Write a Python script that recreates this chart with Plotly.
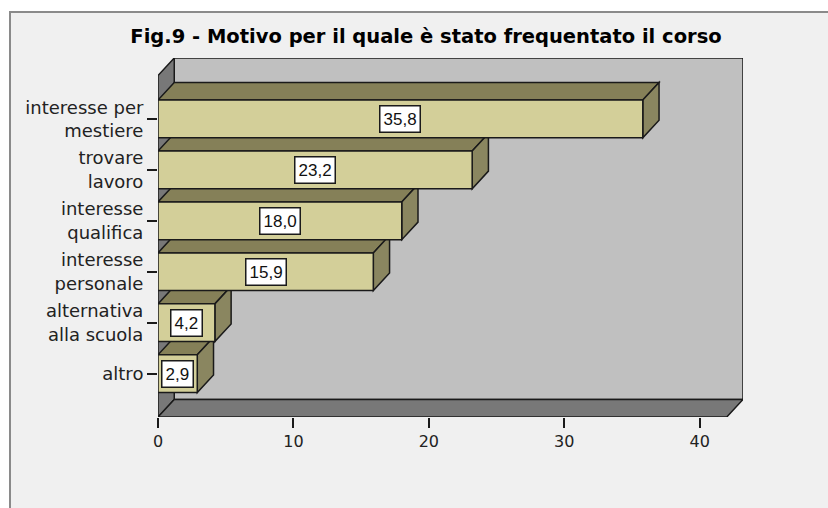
import plotly.graph_objects as go

# ---- data ----
categories = ["interesse per<br>mestiere", "trovare<br>lavoro", "interesse<br>qualifica",
              "interesse<br>personale", "alternativa<br>alla scuola", "altro"]
values = [35.8, 23.2, 18.0, 15.9, 4.2, 2.9]
x_ticks = [0, 10, 20, 30, 40]
title_text = "Fig.9 - Motivo per il quale è stato frequentato il corso"

# ---- geometry / style ----
W, H = 828, 508
ML, MR, MT, MB = 158, 85, 58, 91
X_MAX = 42.0          # front plane extent
DX = 1.2              # depth offset (x units)
Y_LO, Y_HI = -0.85, 5.85
DY = 0.345            # depth offset (category units)
BAR_W = 0.74

BAR_FRONT = "#d3cf99"
BAR_TOP = "#858058"
BAR_SIDE = "#8a8660"
WALL_BACK = "#c0c0c0"
WALL_DARK = "#787878"
EDGE = "#1a1a1a"
BG = "#f0f0f0"

ypos = list(range(len(categories)))

fig = go.Figure()
fig.add_trace(go.Bar(
    x=values, y=ypos, orientation="h", width=BAR_W,
    marker=dict(color=BAR_FRONT, line=dict(color=EDGE, width=1.5)),
    hoverinfo="skip", showlegend=False,
))

shapes = []
pw = W - ML - MR
ph = H - MT - MB
def px_to_paper_x(px):
    return (px - ML) / pw
def py_to_paper_y(py):
    return (H - MB - py) / ph
# outer frame
shapes.append(dict(type="rect", xref="paper", yref="paper", layer="below",
                   x0=px_to_paper_x(10), x1=px_to_paper_x(W + 20),
                   y0=py_to_paper_y(H + 20), y1=py_to_paper_y(12),
                   fillcolor=BG, line=dict(color="#8a8a8a", width=2)))

def poly(pts, fill):
    d = "M " + " L ".join(f"{x},{y}" for x, y in pts) + " Z"
    return dict(type="path", xref="x", yref="y", layer="below", path=d,
                fillcolor=fill, line=dict(color=EDGE, width=1.5))

# back wall
shapes.append(poly([(DX, Y_LO - DY), (X_MAX + DX, Y_LO - DY),
                    (X_MAX + DX, Y_HI - DY), (DX, Y_HI - DY)], WALL_BACK))
# left wall
shapes.append(poly([(0, Y_LO), (DX, Y_LO - DY), (DX, Y_HI - DY), (0, Y_HI)], WALL_DARK))
# floor
shapes.append(poly([(0, Y_HI), (X_MAX, Y_HI), (X_MAX + DX, Y_HI - DY), (DX, Y_HI - DY)], WALL_DARK))

# bar top / side faces, bottom bar first
for c, v in sorted(zip(ypos, values), reverse=True):
    t = c - BAR_W / 2
    b = c + BAR_W / 2
    shapes.append(poly([(0, t), (v, t), (v + DX, t - DY), (DX, t - DY)], BAR_TOP))
    shapes.append(poly([(v, t), (v + DX, t - DY), (v + DX, b - DY), (v, b)], BAR_SIDE))

annotations = []
for c, v in zip(ypos, values):
    annotations.append(dict(
        x=v / 2, y=c, xref="x", yref="y", showarrow=False,
        text=f"{v:.1f}".replace(".", ","),
        font=dict(family="Liberation Sans, Arial, sans-serif", size=17, color="#111"),
        bgcolor="white", bordercolor=EDGE, borderwidth=1.5, borderpad=3,
    ))

fig.update_layout(
    width=W, height=H,
    margin=dict(l=ML, r=MR, t=MT, b=MB, pad=0),
    paper_bgcolor="white", plot_bgcolor="rgba(0,0,0,0)",
    shapes=shapes, annotations=annotations,
    title=dict(text=f"<b>{title_text}</b>", xref="container", yref="container",
               x=426 / W, y=1 - 36 / H, xanchor="center", yanchor="middle",
               font=dict(family="DejaVu Sans, sans-serif", size=19.5, color="#000")),
    xaxis=dict(range=[0, X_MAX + DX], tickvals=x_ticks, showgrid=False, zeroline=False,
               showline=False, ticks="outside", ticklen=10, tickwidth=2, tickcolor=EDGE,
               tickfont=dict(family="DejaVu Sans, sans-serif", size=16, color="#222")),
    yaxis=dict(range=[Y_HI, Y_LO - DY], tickvals=ypos, ticktext=categories,
               showgrid=False, zeroline=False, showline=False,
               ticks="outside", ticklen=10, tickwidth=2, tickcolor=EDGE,
               tickfont=dict(family="DejaVu Sans, sans-serif", size=18, color="#222")),
)

fig.write_html("out.html", config={"displayModeBar": False},
               post_script="document.body.style.margin='0';document.body.style.overflow='hidden';")
